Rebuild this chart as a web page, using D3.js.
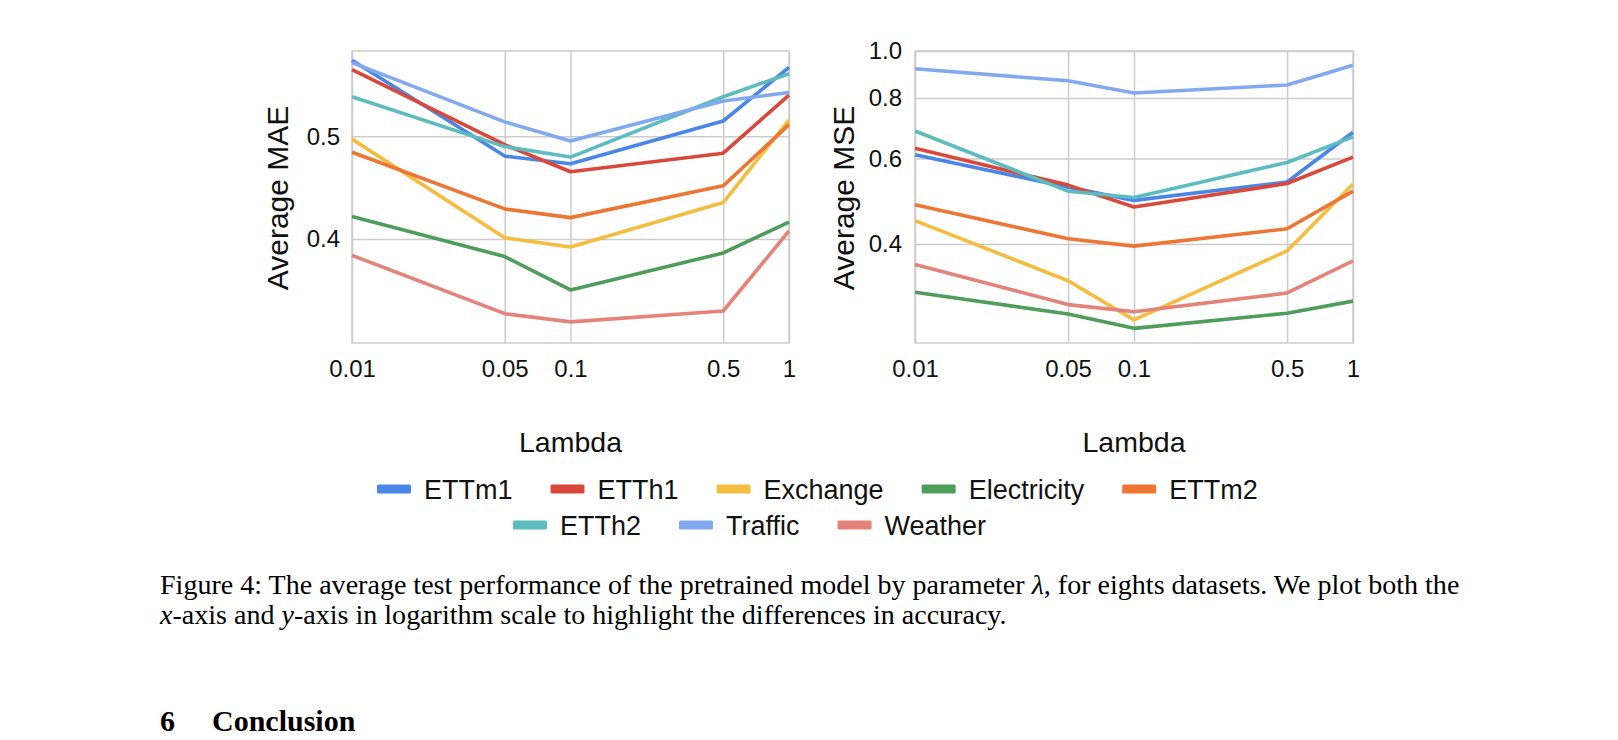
<!DOCTYPE html>
<html>
<head>
<meta charset="utf-8">
<script src="https://cdn.jsdelivr.net/npm/d3@7"></script>
<style>
  html, body { margin: 0; padding: 0; background: #fff; }
  svg { display: block; }
</style>
</head>
<body>
<script>
// ---------------- DATA ----------------
const lambdas = [0.01, 0.05, 0.1, 0.5, 1];
const xTickLabels = ["0.01", "0.05", "0.1", "0.5", "1"];
const seriesNames = ["ETTm1", "ETTh1", "Exchange", "Electricity", "ETTm2", "ETTh2", "Traffic", "Weather"];
const seriesColors = ["#4a86e8", "#d9493b", "#f4bd3f", "#4f9d5a", "#ee7633", "#5cbcc0", "#82a9f0", "#e3837a"];

// Average MAE (left panel)
const maeETTm1       = [0.590, 0.479, 0.471, 0.517, 0.581];
const maeETTh1       = [0.578, 0.491, 0.463, 0.482, 0.547];
const maeExchange    = [0.497, 0.401, 0.393, 0.433, 0.518];
const maeElectricity = [0.420, 0.385, 0.358, 0.388, 0.415];
const maeETTm2       = [0.483, 0.427, 0.419, 0.449, 0.513];
const maeETTh2       = [0.545, 0.489, 0.478, 0.545, 0.573];
const maeTraffic     = [0.587, 0.516, 0.495, 0.540, 0.550];
const maeWeather     = [0.386, 0.340, 0.334, 0.342, 0.407];

// Average MSE (right panel)
const mseETTm1       = [0.611, 0.524, 0.492, 0.537, 0.680];
const mseETTh1       = [0.630, 0.529, 0.477, 0.533, 0.604];
const mseExchange    = [0.447, 0.336, 0.279, 0.387, 0.532];
const mseElectricity = [0.318, 0.287, 0.268, 0.288, 0.305];
const mseETTm2       = [0.482, 0.410, 0.396, 0.430, 0.514];
const mseETTh2       = [0.684, 0.514, 0.499, 0.589, 0.665];
const mseTraffic     = [0.919, 0.868, 0.819, 0.851, 0.935];
const mseWeather     = [0.363, 0.300, 0.290, 0.317, 0.369];

const maeTicks = [0.4, 0.5];
const mseTicks = [0.4, 0.6, 0.8, 1.0];
const maeDomain = [0.319, 0.602];
const mseDomain = [0.25, 1.0];

const maeSeries = [maeETTm1, maeETTh1, maeExchange, maeElectricity, maeETTm2, maeETTh2, maeTraffic, maeWeather];
const mseSeries = [mseETTm1, mseETTh1, mseExchange, mseElectricity, mseETTm2, mseETTh2, mseTraffic, mseWeather];

// ---------------- DRAWING ----------------
const W = 1618, H = 740;
const SANS = "'Liberation Sans', Arial, Helvetica, sans-serif";
const SERIF = "'Liberation Serif', 'Times New Roman', Times, serif";
const GRID = "#cccccc";

const svg = d3.select("body").append("svg")
  .attr("width", W).attr("height", H)
  .attr("viewBox", `0 0 ${W} ${H}`);
svg.append("rect").attr("width", W).attr("height", H).attr("fill", "#fff");

function drawPanel(cfg) {
  const g = svg.append("g");
  const x = d3.scaleLog().domain([lambdas[0], lambdas[lambdas.length - 1]]).range([cfg.x0, cfg.x1]);
  const y = d3.scaleLog().domain(cfg.domain).range([cfg.y1, cfg.y0]);

  // vertical grid + x tick labels
  const gx = g.append("g")
    .attr("transform", `translate(0,${cfg.y1})`)
    .call(d3.axisBottom(x)
      .tickValues(lambdas)
      .tickFormat((d, i) => xTickLabels[i])
      .tickSize(-(cfg.y1 - cfg.y0))
      .tickPadding(17));
  gx.select(".domain").remove();
  gx.selectAll("line").attr("stroke", GRID).attr("stroke-width", 1.5);
  gx.selectAll("text").attr("font-family", SANS).attr("font-size", 24).attr("fill", "#111");

  // horizontal grid + y tick labels
  const gy = g.append("g")
    .attr("transform", `translate(${cfg.x0},0)`)
    .call(d3.axisLeft(y)
      .tickValues(cfg.ticks)
      .tickFormat(d3.format(".1f"))
      .tickSize(-(cfg.x1 - cfg.x0))
      .tickPadding(cfg.yPad));
  gy.select(".domain").remove();
  gy.selectAll("line").attr("stroke", GRID).attr("stroke-width", 1.5);
  gy.selectAll("text").attr("font-family", SANS).attr("font-size", 24).attr("fill", "#111");

  // frame
  g.append("rect")
    .attr("x", cfg.x0).attr("y", cfg.y0)
    .attr("width", cfg.x1 - cfg.x0).attr("height", cfg.y1 - cfg.y0)
    .attr("fill", "none").attr("stroke", GRID).attr("stroke-width", 1.5);

  // series lines
  const line = d3.line().x((d, i) => x(lambdas[i])).y(d => y(d));
  cfg.series.forEach((vals, k) => {
    g.append("path")
      .datum(vals)
      .attr("d", line)
      .attr("fill", "none")
      .attr("stroke", seriesColors[k])
      .attr("stroke-width", 3.6)
      .attr("stroke-linejoin", "round")
      .attr("stroke-linecap", "butt");
  });

  // y axis title
  g.append("text")
    .attr("transform", `translate(${cfg.titleX},${(cfg.y0 + cfg.y1) / 2 + 1}) rotate(-90)`)
    .attr("text-anchor", "middle")
    .attr("dominant-baseline", "central")
    .attr("font-family", SANS).attr("font-size", 30).attr("fill", "#111")
    .text(cfg.title);

  // x axis title
  g.append("text")
    .attr("x", (cfg.x0 + cfg.x1) / 2).attr("y", 442)
    .attr("text-anchor", "middle")
    .attr("dominant-baseline", "central")
    .attr("font-family", SANS).attr("font-size", 28.5).attr("fill", "#111")
    .text("Lambda");
}

drawPanel({ x0: 352, x1: 789, y0: 51, y1: 343, domain: maeDomain, ticks: maeTicks,
            series: maeSeries, title: "Average MAE", titleX: 277, yPad: 12 });
drawPanel({ x0: 915, x1: 1353, y0: 51, y1: 343, domain: mseDomain, ticks: mseTicks,
            series: mseSeries, title: "Average MSE", titleX: 843, yPad: 13 });

// ---------------- LEGEND ----------------
const legendRows = [
  { idx: [0, 1, 2, 3, 4], x: 377, y: 489 },
  { idx: [5, 6, 7], x: 513, y: 525 }
];
const leg = svg.append("g");
legendRows.forEach(row => {
  let cx = row.x;
  row.idx.forEach(k => {
    leg.append("rect")
      .attr("x", cx).attr("y", row.y - 4.5)
      .attr("width", 34).attr("height", 9).attr("rx", 1.5)
      .attr("fill", seriesColors[k]);
    const t = leg.append("text")
      .attr("x", cx + 47).attr("y", row.y + 1)
      .attr("dominant-baseline", "central")
      .attr("font-family", SANS).attr("font-size", 27).attr("fill", "#111")
      .text(seriesNames[k]);
    cx += 47 + t.node().getComputedTextLength() + 38;
  });
});

// ---------------- CAPTION ----------------
const cap = svg.append("g").attr("font-family", SERIF).attr("fill", "#000");
const l1 = cap.append("text").attr("x", 160).attr("y", 594).attr("font-size", 23);
l1.append("tspan").text("Figure 4: The average test performance of the pretrained model by parameter ");
l1.append("tspan").attr("font-style", "italic").text("λ");
l1.append("tspan").text(", for eights datasets. We plot both the");
const natural = l1.node().getComputedTextLength();
const capSize = 23 * 1300 / natural;
l1.attr("font-size", capSize);

const l2 = cap.append("text").attr("x", 160).attr("y", 624).attr("font-size", capSize);
l2.append("tspan").attr("font-style", "italic").text("x");
l2.append("tspan").text("-axis and ");
l2.append("tspan").attr("font-style", "italic").text("y");
l2.append("tspan").text("-axis in logarithm scale to highlight the differences in accuracy.");

const h = svg.append("g").attr("font-family", SERIF).attr("font-weight", "bold").attr("font-size", 30).attr("fill", "#000");
h.append("text").attr("x", 160).attr("y", 731).text("6");
h.append("text").attr("x", 212).attr("y", 731).text("Conclusion");
</script>
</body>
</html>
